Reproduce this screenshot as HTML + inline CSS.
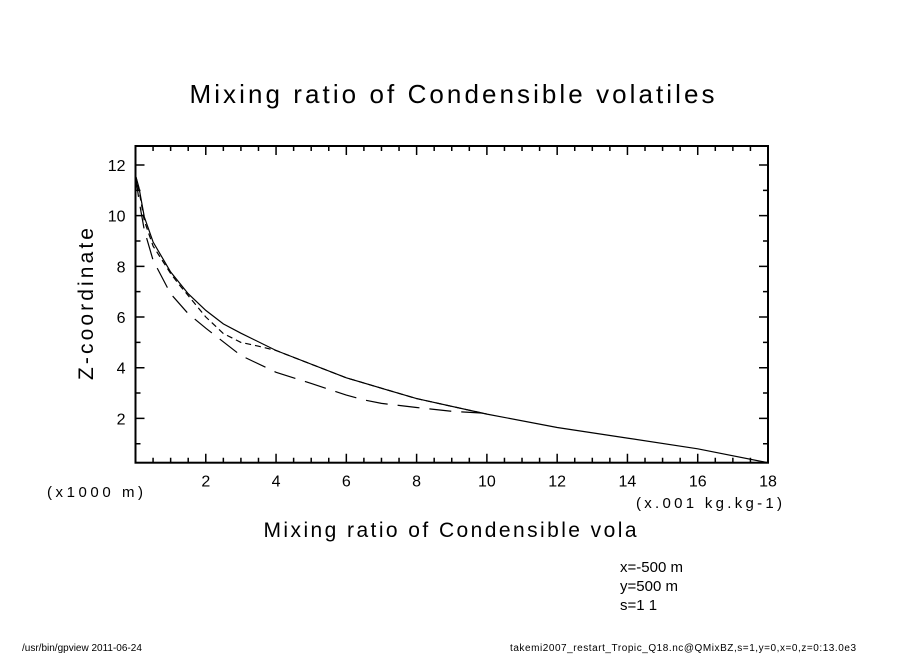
<!DOCTYPE html>
<html><head><meta charset="utf-8"><style>
body{margin:0;background:#fff}
svg text{font-family:"Liberation Sans",sans-serif;fill:#000}
</style></head><body>
<svg id="c" width="904" height="654" xmlns="http://www.w3.org/2000/svg">
<text x="452" y="103" text-anchor="middle" font-size="26" textLength="525">Mixing ratio of Condensible volatiles</text>
<text x="450" y="537" text-anchor="middle" font-size="21" textLength="373">Mixing ratio of Condensible vola</text>
<text transform="translate(93,304) rotate(-90)" text-anchor="middle" font-size="21" textLength="152">Z-coordinate</text>
<text x="47" y="497" font-size="15" textLength="96">(x1000 m)</text>
<text x="636" y="508" font-size="15" textLength="146">(x.001 kg.kg-1)</text>
<text x="620" y="572" font-size="15">x=-500 m</text>
<text x="620" y="591" font-size="15">y=500 m</text>
<text x="620" y="610" font-size="15">s=1 1</text>
<text x="22" y="651" font-size="10">/usr/bin/gpview   2011-06-24</text>
<text x="510" y="651" font-size="10" textLength="346">takemi2007_restart_Tropic_Q18.nc@QMixBZ,s=1,y=0,x=0,z=0:13.0e3</text>
<g id="plot"></g>
</svg>
<script>
const xTicks=[2,4,6,8,10,12,14,16,18];
const yTicks=[2,4,6,8,10,12];
const solidX=[0,0.1,0.25,0.5,1,1.5,2,2.5,3,4,6,8,10,12,14,16,18];
const solidZ=[11.6,11.1,9.95,8.96,7.78,6.92,6.26,5.73,5.36,4.68,3.6,2.78,2.17,1.64,1.22,0.8,0.25];
const midX=[0,0.1,0.25,0.5,1,1.2,2,2.5,3,3.5,4,6,8,10];
const midZ=[11.6,11.0,9.8,8.8,7.72,7.35,6.0,5.35,5.0,4.85,4.68,3.6,2.78,2.17];
const dashX=[0,0.1,0.25,0.5,1,1.5,2,3,4,5,6,6.5,7,8,9,10];
const dashZ=[11.6,10.6,9.43,8.24,6.92,6.13,5.56,4.48,3.82,3.38,2.92,2.73,2.59,2.43,2.28,2.2];
const X0=135.5,X1=768,Y0=462.7,Y1=146,xmin=0,xmax=18,zmin=0.25,zmax=12.75;
const sx=v=>X0+(v-xmin)/(xmax-xmin)*(X1-X0);
const sy=v=>Y0-(v-zmin)/(zmax-zmin)*(Y0-Y1);
const g=document.getElementById('plot');const NS='http://www.w3.org/2000/svg';
function mk(t,a){const e=document.createElementNS(NS,t);for(const k in a)e.setAttribute(k,a[k]);g.appendChild(e);return e;}
const fr=mk('rect',{x:X0,y:Y1,width:X1-X0,height:Y0-Y1,fill:'none',stroke:'#000','stroke-width':2});


for(let v=0.5;v<18;v+=0.5){const L=(v%2===0)?9:5;const x=sx(v);
 const t=mk('path',{d:`M${x} ${Y0}v${-L}M${x} ${Y1}v${L}`,stroke:'#000','stroke-width':1.5});
 
 }
for(let v=1;v<=12;v+=1){const L=(v%2===0)?9:5;const y=sy(v);
 const t=mk('path',{d:`M${X0} ${y}h${L}M${X1} ${y}h${-L}`,stroke:'#000','stroke-width':1.5});
 
 }
xTicks.forEach(v=>{const t=mk('text',{x:sx(v),y:Y0+24,'text-anchor':'middle','font-size':16});t.textContent=v;
 
 });
yTicks.forEach(v=>{const t=mk('text',{x:X0-10,y:sy(v)+6,'text-anchor':'end','font-size':16});t.textContent=v;
 
 });
function line(xs,zs,dash,name){const d=xs.map((v,i)=>(i?'L':'M')+sx(v).toFixed(1)+' '+sy(zs[i]).toFixed(1)).join('');
 const p=mk('path',{d:d,fill:'none',stroke:'#000','stroke-width':1.2,'stroke-dasharray':dash});
 
 }
line(solidX,solidZ,'none','series-solid');
line(midX,midZ,'6 4','series-short-dash');
line(dashX,dashZ,'22 10','series-long-dash');
</script>
</body></html>
